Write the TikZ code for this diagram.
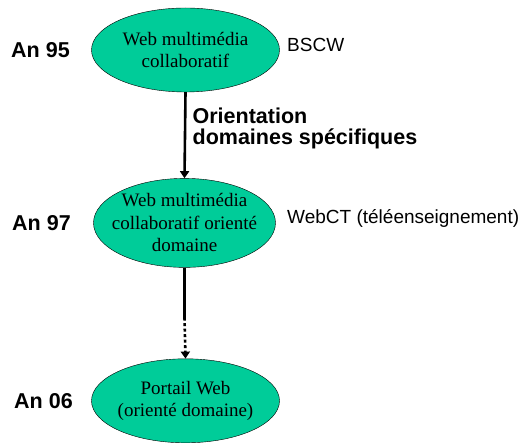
\documentclass[tikz,border=0pt]{standalone}
\usepackage{fontspec}
\setmainfont{Liberation Serif}
\setsansfont{Liberation Sans}
\usepackage{tikz}
\usetikzlibrary{positioning,shapes.geometric,arrows.meta}
\definecolor{webgreen}{RGB}{0,204,153}

\begin{document}
\begin{tikzpicture}[
x=1pt,y=1pt,
stage/.style={
  draw,
  ellipse,
  fill=webgreen,
  inner xsep=-25pt,
  inner ysep=-20pt,
  align=center,
  font=\fontsize{19}{22.5}\selectfont
  },
year/.style={font=\sffamily\bfseries\fontsize{21.5}{22}\selectfont},
tool/.style={font=\sffamily\fontsize{19}{22}\selectfont,anchor=west},
evol/.style={line width=2.6pt,-{Triangle[length=7pt,width=9pt]}},
node distance=86pt
]
\useasboundingbox (0,0) rectangle (520,-443);
\node[stage,minimum width=188pt,minimum height=84pt] (e1) at (185.5,-50)
  {Web multimédia\\collaboratif};
\node[stage,minimum width=182pt,minimum height=89pt,below=86pt of e1.south,anchor=north,xshift=-1pt] (e2)
  {Web multimédia\\collaboratif orienté\\domaine};
\node[stage,minimum width=188pt,minimum height=84pt,below=91pt of e2.south,anchor=north,xshift=1pt] (e3)
  {Portail Web\\(orienté domaine)};
\foreach \Stage/\Year/\Gap in {e1/95/18,e2/97/19,e3/06/15}
  \node[year,left=\Gap pt of \Stage] (an\Year) {An \Year};
\node[tool,right=4pt of e1.east,yshift=5pt] (bscw) {BSCW};
\node[tool,right=8pt of e2.east,yshift=4pt] (webct) {WebCT (téléenseignement)};
\coordinate (mid) at ([yshift=-50pt]e2.south);
\draw[evol] (e1.south) -- node[right=3pt,align=left,font=\sffamily\bfseries\fontsize{21.5}{21.5}\selectfont,yshift=7pt]
  {Orientation\\domaines spécifiques} (e2.north);
\draw[line width=2.6pt] (e2.south) -- (mid);
\draw[evol,dash pattern=on 3pt off 2.5pt] (mid) -- (e3.north);
\end{tikzpicture}
\end{document}
